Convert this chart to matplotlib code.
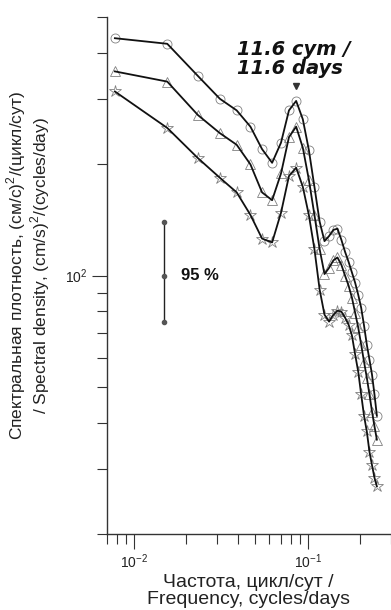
import matplotlib
matplotlib.use("Agg")
import matplotlib.pyplot as plt
from matplotlib.ticker import LogLocator, NullFormatter

plt.rcParams['font.family'] = ['Liberation Sans', 'DejaVu Sans']
plt.rcParams['mathtext.fontset'] = 'custom'
plt.rcParams['mathtext.rm'] = 'Liberation Sans'

# frequencies, cycles/day
freq = [0.0078, 0.0156, 0.0234, 0.0313, 0.0391, 0.0469, 0.0547, 0.0625,
        0.0703, 0.0781, 0.0859, 0.0938, 0.1016, 0.1094, 0.1172, 0.1250,
        0.1328, 0.1406, 0.1484, 0.1563, 0.1641, 0.1719, 0.1797, 0.1875,
        0.1953, 0.2031, 0.2109, 0.2188, 0.2266, 0.2344, 0.2422, 0.2500]

# spectral density, (cm/s)^2/(cycles/day)
circles = [439, 424, 347, 301, 280, 253, 220, 202, 229, 280, 297, 265,
           219, 174, 140, 124, 128, 133, 134, 125, 116, 109, 102, 95.7,
           88.8, 81.9, 73.3, 65.1, 59.3, 54.0, 47.7, 41.8]
triangles = [357, 335, 272, 243, 226, 200, 168, 160, 189, 237, 253, 222,
             182, 146, 118, 101, 105, 110, 112, 107, 100, 94.0, 87.2, 79.4,
             72.4, 65.1, 58.5, 53.0, 47.7, 42.9, 39.1, 36.0]
stars = [315, 251, 208, 184, 168, 146, 126, 123, 148, 186, 196, 174,
         146, 118, 91.7, 78.4, 75.1, 78.4, 80.4, 79.9, 77.0, 73.7, 68.9, 61.2,
         55.0, 47.7, 41.8, 37.9, 33.4, 30.7, 28.4, 26.9]

# 95 % confidence bar
ci_freq = 0.015
ci_center = 100
ci_low = 75
ci_high = 140

peak_idx = 10  # 11.6 days

fig = plt.figure(figsize=(3.91, 6.10), dpi=100)
ax = fig.add_axes([0.2729, 0.1246, 0.7262, 0.847])

for vals, mk in [(circles, 'o'), (triangles, '^'), (stars, '*')]:
    ms = 9 if mk == '*' else 6.5
    ax.plot(freq, vals, linestyle='none', marker=mk, markersize=ms,
            markerfacecolor='none', markeredgecolor='#808080',
            markeredgewidth=0.6, zorder=2)
    ax.plot(freq, vals, color='#111111', linewidth=1.3, zorder=3)

# confidence interval
ax.plot([ci_freq, ci_freq], [ci_low, ci_high], color='#222222', linewidth=1.0)
ax.plot([ci_freq] * 3, [ci_low, ci_center, ci_high], linestyle='none',
        marker='o', markersize=3, color='#555555')
ax.text(ci_freq * 1.245, ci_center, '95 %', fontsize=12, fontweight='bold',
        ha='left', va='center', color='#111111')

# peak annotation
ax.plot(freq[peak_idx], circles[peak_idx] * 1.1, marker='v', markersize=5,
        color='#333333', linestyle='none')
ax.text(0.458, 0.957, '11.6 cym /\n11.6 days', transform=ax.transAxes,
        family='DejaVu Sans', fontsize=14, fontweight='bold', style='italic',
        ha='left', va='top', linespacing=1.0, color='#111111')

ax.set_xscale('log')
ax.set_yscale('log')
ax.set_xlim(0.007, 0.3)
ax.set_ylim(20, 500)

ax.xaxis.set_major_locator(LogLocator(base=10))
ax.yaxis.set_major_locator(LogLocator(base=10))
ax.xaxis.set_minor_formatter(NullFormatter())
ax.yaxis.set_minor_formatter(NullFormatter())

for side in ['top', 'right']:
    ax.spines[side].set_visible(False)
for side in ['left', 'bottom']:
    ax.spines[side].set_color('#333333')
    ax.spines[side].set_linewidth(1.0)

ax.tick_params(which='major', direction='out', length=11, width=0.8,
               color='#333333', labelsize=10, labelcolor='#222222')
ax.tick_params(which='minor', direction='out', length=7.5, width=0.8,
               color='#333333')
ax.tick_params(axis='x', which='major', pad=2)
ax.tick_params(axis='y', which='major', pad=3)

ax.set_ylabel('Спектральная плотность, (см/с)$^2$/(цикл/сут)\n'
              '/ Spectral density, (cm/s)$^2$/(cycles/day)',
              fontsize=12.5, linespacing=1.0, color='#222222')
ax.yaxis.set_label_coords(-0.194, 0.52)
ax.set_xlabel('Частота, цикл/сут /\nFrequency, cycles/days',
              fontsize=14, linespacing=1.0, color='#222222')
ax.xaxis.set_label_coords(0.5, -0.077)

fig.savefig('out.png', dpi=100)
